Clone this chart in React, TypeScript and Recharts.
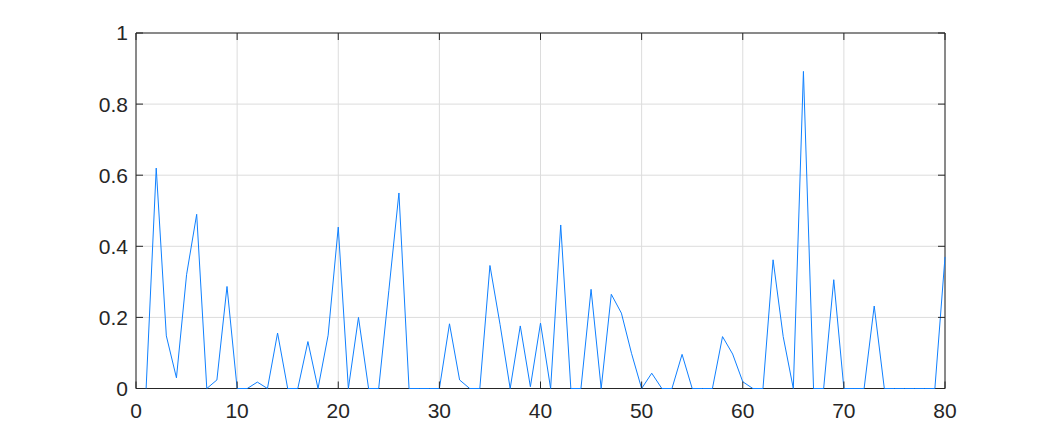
import { LineChart, Line, XAxis, YAxis, CartesianGrid, ReferenceArea } from "recharts";

// sample index 1..80
const xValues: number[] = Array.from({ length: 80 }, (_, i) => i + 1);

// values
const yValues: number[] = [
  0, 0.62, 0.148, 0.03, 0.32, 0.49, 0, 0.024, 0.287, 0,
  0, 0.018, 0, 0.156, 0, 0, 0.132, 0, 0.15, 0.454,
  0, 0.2, 0, 0, 0.275, 0.55, 0, 0, 0, 0,
  0.182, 0.024, 0, 0, 0.346, 0.18, 0, 0.176, 0.005, 0.184,
  0, 0.46, 0, 0, 0.279, 0, 0.265, 0.212, 0.099, 0,
  0.043, 0, 0, 0.096, 0, 0, 0, 0.146, 0.097, 0.019,
  0, 0, 0.362, 0.146, 0, 0.892, 0, 0, 0.306, 0,
  0, 0, 0.232, 0, 0, 0, 0, 0, 0, 0.37,
];

const xTicks = [0, 10, 20, 30, 40, 50, 60, 70, 80];
const yTicks = [0, 0.2, 0.4, 0.6, 0.8, 1];

const data = xValues.map((x, i) => ({ x, y: yValues[i] }));

const W = 1045;
const H = 437;
const M = { top: 33, right: 100, bottom: 8.5, left: 76 };
const Y_AXIS_W = 60;
const X_AXIS_H = 40;
const PLOT_W = W - M.left - M.right - Y_AXIS_W;
const PLOT_H = H - M.top - M.bottom - X_AXIS_H;
const TICK = 7;
const X_GAP = 15;
const Y_GAP = 8;

const AXIS = "#262626";
const FONT = "'Liberation Sans', Arial, sans-serif";

// bottom label plus inward tick marks on the bottom and top edges
function XTick(props: any) {
  const { x, y, payload } = props;
  const axisY = y - X_GAP;
  return (
    <g>
      <line x1={x} x2={x} y1={axisY} y2={axisY - TICK} stroke={AXIS} />
      <line x1={x} x2={x} y1={axisY - PLOT_H} y2={axisY - PLOT_H + TICK} stroke={AXIS} />
      <text x={x} y={y} dy="0.71em" textAnchor="middle" fontSize={21} fontFamily={FONT} fill={AXIS}>
        {payload.value}
      </text>
    </g>
  );
}

// left label plus inward tick marks on the left and right edges
function YTick(props: any) {
  const { x, y, payload } = props;
  const axisX = x + Y_GAP;
  return (
    <g>
      <line x1={axisX} x2={axisX + TICK} y1={y} y2={y} stroke={AXIS} />
      <line x1={axisX + PLOT_W} x2={axisX + PLOT_W - TICK} y1={y} y2={y} stroke={AXIS} />
      <text x={x} y={y} dy="0.355em" textAnchor="end" fontSize={21} fontFamily={FONT} fill={AXIS}>
        {payload.value}
      </text>
    </g>
  );
}

export default function App() {
  return (
    <div style={{ position: "fixed", left: 0, top: 0, background: "#fff" }}>
      <LineChart width={W} height={H} data={data} margin={M}>
        <CartesianGrid stroke="#dcdcdc" strokeWidth={1} />
        <XAxis
          dataKey="x"
          type="number"
          domain={[0, 80]}
          ticks={xTicks}
          height={X_AXIS_H}
          tickLine={false}
          axisLine={false}
          tickSize={0}
          tickMargin={X_GAP}
          tick={<XTick />}
        />
        <YAxis
          type="number"
          domain={[0, 1]}
          ticks={yTicks}
          width={Y_AXIS_W}
          tickLine={false}
          axisLine={false}
          tickSize={0}
          tickMargin={Y_GAP}
          tick={<YTick />}
        />
        <ReferenceArea x1={0} x2={80} y1={0} y2={1} fill="none" stroke={AXIS} strokeWidth={1} />
        <Line
          type="linear"
          dataKey="y"
          stroke="#0f80ff"
          strokeWidth={1}
          dot={false}
          isAnimationActive={false}
        />
      </LineChart>
    </div>
  );
}
